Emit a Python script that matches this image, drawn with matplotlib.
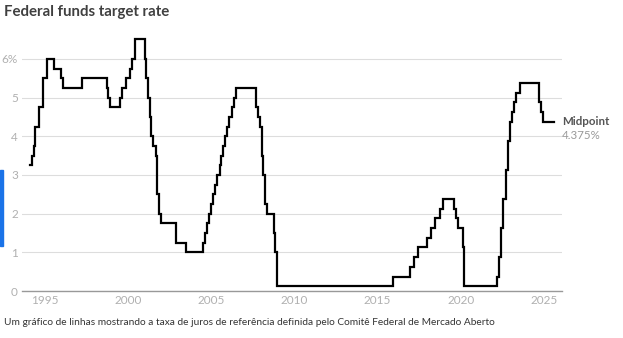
import numpy as np
import pandas as pd
import matplotlib
matplotlib.use("Agg")
import matplotlib.pyplot as plt
from matplotlib.patches import Rectangle

plt.rcParams['font.family'] = ['Lato', 'DejaVu Sans']

# FOMC target rate changes (midpoint of range after Dec 2008)
change_dates = [
    '1994-02-04', '1994-03-22', '1994-04-18', '1994-05-17', '1994-08-16', '1994-11-15',
    '1995-02-01', '1995-07-06', '1995-12-19', '1996-01-31', '1997-03-25',
    '1998-09-29', '1998-10-15', '1998-11-17', '1999-06-30', '1999-08-24', '1999-11-16',
    '2000-02-02', '2000-03-21', '2000-05-16',
    '2001-01-03', '2001-01-31', '2001-03-20', '2001-04-18', '2001-05-15', '2001-06-27',
    '2001-08-21', '2001-09-17', '2001-10-02', '2001-11-06', '2001-12-11',
    '2002-11-06', '2003-06-25',
    '2004-06-30', '2004-08-10', '2004-09-21', '2004-11-10', '2004-12-14',
    '2005-02-02', '2005-03-22', '2005-05-03', '2005-06-30', '2005-08-09', '2005-09-20',
    '2005-11-01', '2005-12-13', '2006-01-31', '2006-03-28', '2006-05-10', '2006-06-29',
    '2007-09-18', '2007-10-31', '2007-12-11',
    '2008-01-22', '2008-01-30', '2008-03-18', '2008-04-30', '2008-10-08', '2008-10-29',
    '2008-12-16',
    '2015-12-16', '2016-12-14', '2017-03-15', '2017-06-14', '2017-12-13',
    '2018-03-21', '2018-06-13', '2018-09-26', '2018-12-19',
    '2019-07-31', '2019-09-18', '2019-10-30', '2020-03-03', '2020-03-15',
    '2022-03-16', '2022-05-04', '2022-06-15', '2022-07-27', '2022-09-21', '2022-11-02',
    '2022-12-14', '2023-02-01', '2023-03-22', '2023-05-03', '2023-07-26',
    '2024-09-18', '2024-11-07', '2024-12-18', '2025-08-15',
]
rates = [
    3.25, 3.50, 3.75, 4.25, 4.75, 5.50,
    6.00, 5.75, 5.50, 5.25, 5.50,
    5.25, 5.00, 4.75, 5.00, 5.25, 5.50,
    5.75, 6.00, 6.50,
    6.00, 5.50, 5.00, 4.50, 4.00, 3.75,
    3.50, 3.00, 2.50, 2.00, 1.75,
    1.25, 1.00,
    1.25, 1.50, 1.75, 2.00, 2.25,
    2.50, 2.75, 3.00, 3.25, 3.50, 3.75,
    4.00, 4.25, 4.50, 4.75, 5.00, 5.25,
    4.75, 4.50, 4.25,
    3.50, 3.00, 2.25, 2.00, 1.50, 1.00,
    0.125,
    0.375, 0.625, 0.875, 1.125, 1.375,
    1.625, 1.875, 2.125, 2.375,
    2.125, 1.875, 1.625, 1.125, 0.125,
    0.375, 0.875, 1.625, 2.375, 3.125, 3.875,
    4.375, 4.625, 4.875, 5.125, 5.375,
    4.875, 4.625, 4.375, 4.375,
]

yticks = [0, 1, 2, 3, 4, 5, 6]
ytick_labels = ['0', '1', '2', '3', '4', '5', '6%']
xticks = [1995, 2000, 2005, 2010, 2015, 2020, 2025]

d = pd.to_datetime(change_dates)
x = (d.year + (d.dayofyear - 1) / 365.25).values

fig = plt.figure(figsize=(6.23, 3.38), dpi=100)
ax = fig.add_axes([0.0353, 0.139, 0.8668, 0.790])

ax.step(x, rates, where='post', color='black', lw=1.6, solid_joinstyle='miter')

ax.set_xlim(1993.6, 2026.1)
ax.set_ylim(0, 6.9)
ax.set_yticks(yticks)
ax.set_yticklabels(ytick_labels)
ax.set_xticks(xticks)
ax.set_xticklabels([str(t) for t in xticks])
ax.grid(axis='y', color='#dddddd', lw=0.8)
ax.set_axisbelow(True)
for s in ['top', 'right', 'left']:
    ax.spines[s].set_visible(False)
ax.spines['bottom'].set_color('#999999')
ax.spines['bottom'].set_linewidth(1.0)
ax.tick_params(axis='both', length=0, labelsize=8.5, colors='#b0b0b0')
ax.tick_params(axis='y', pad=3)
ax.tick_params(axis='x', pad=3)

ax.text(2026.1, 4.375, 'Midpoint', fontsize=8.3, fontweight='bold',
        color='#555555', ha='left', va='center', clip_on=False)
ax.text(2026.1, 4.375 - 0.36, '4.375%', fontsize=8.3, color='#999999',
        ha='left', va='center', clip_on=False)

fig.text(0.006, 0.965, 'Federal funds target rate', fontsize=10.8, fontweight='bold',
         color='#404040', ha='left', va='center')
fig.text(0.006, 0.047, 'Um gráfico de linhas mostrando a taxa de juros de referência '
         'definida pelo Comitê Federal de Mercado Aberto',
         fontsize=7.3, color='#333333', ha='left', va='center')

fig.patches.append(Rectangle((0, (338 - 246) / 338), 3 / 623, 76 / 338,
                             transform=fig.transFigure, color='#1a73e8', zorder=5))

fig.savefig('out.png', dpi=100)
